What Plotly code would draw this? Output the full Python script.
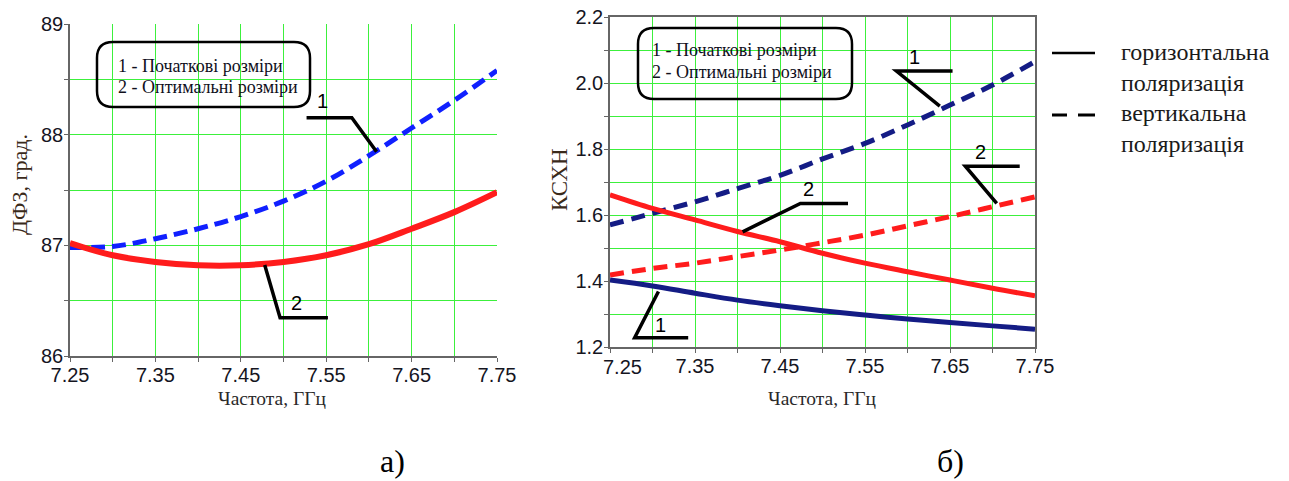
import plotly.graph_objects as go

# Frequency grid, GHz
freq = [7.25, 7.30, 7.35, 7.40, 7.45, 7.50, 7.55, 7.60, 7.65, 7.70, 7.75]

# а) differential phase shift, degrees
dfz_initial = [86.98, 86.99, 87.06, 87.15, 87.26, 87.40, 87.58, 87.81, 88.06, 88.31, 88.58]
dfz_optimal = [87.02, 86.91, 86.85, 86.82, 86.82, 86.85, 86.91, 87.01, 87.15, 87.30, 87.48]

# б) VSWR for horizontal (h) and vertical (v) polarization
vswr_h_initial = [1.403, 1.385, 1.363, 1.342, 1.325, 1.310, 1.297, 1.285, 1.274, 1.264, 1.254]
vswr_h_optimal = [1.661, 1.620, 1.585, 1.550, 1.519, 1.484, 1.454, 1.428, 1.403, 1.378, 1.355]
vswr_v_initial = [1.570, 1.605, 1.640, 1.680, 1.720, 1.770, 1.817, 1.873, 1.933, 1.994, 2.065]
vswr_v_optimal = [1.418, 1.438, 1.454, 1.474, 1.494, 1.516, 1.539, 1.567, 1.595, 1.625, 1.655]

x_ticks = [7.25, 7.35, 7.45, 7.55, 7.65, 7.75]
x_ticktext = ["7.25", "7.35", "7.45", "7.55", "7.65", "7.75"]
legend_lines = ["1 - Початкові розміри", "2 - Оптимальні розміри"]
pol_labels = ["горизонтальна<br>поляризація", "вертикальна<br>поляризація"]
x_title = "Частота, ГГц"
y_title_a = "ДФЗ, град."
y_title_b = "КСХН"
panel_labels = ["а)", "б)"]

W, H = 1289, 481
GREEN = "#3cf03c"
AXIS = "#666666"
BLUE = "#1020ff"
NAVY = "#141c85"
RED = "#ff1c1c"
SANS = "Liberation Sans, Arial, sans-serif"
SERIF = "Liberation Serif, Times New Roman, serif"


def pxx(x):
    return x / W


def pxy(y):
    return 1 - y / H


fig = go.Figure()

# panel а)
fig.add_trace(go.Scatter(x=freq, y=dfz_initial, mode="lines", xaxis="x", yaxis="y",
                         line=dict(color=BLUE, width=5, dash="14px,7px", shape="spline")))
fig.add_trace(go.Scatter(x=freq, y=dfz_optimal, mode="lines", xaxis="x", yaxis="y",
                         line=dict(color=RED, width=6, shape="spline")))

# panel б)
fig.add_trace(go.Scatter(x=freq, y=vswr_v_initial, mode="lines", xaxis="x2", yaxis="y2",
                         line=dict(color=NAVY, width=5, dash="14px,8px", shape="spline")))
fig.add_trace(go.Scatter(x=freq, y=vswr_v_optimal, mode="lines", xaxis="x2", yaxis="y2",
                         line=dict(color=RED, width=5, dash="14px,8px", shape="spline")))
fig.add_trace(go.Scatter(x=freq, y=vswr_h_optimal, mode="lines", xaxis="x2", yaxis="y2",
                         line=dict(color=RED, width=5, shape="spline")))
fig.add_trace(go.Scatter(x=freq, y=vswr_h_initial, mode="lines", xaxis="x2", yaxis="y2",
                         line=dict(color=NAVY, width=5, shape="spline")))

tickfont = dict(family=SANS, size=20, color="#15151f")


def xaxis(domain, mirror, ticktext):
    return dict(domain=domain, range=[7.25, 7.75], tickvals=x_ticks, ticktext=ticktext,
                showgrid=True, gridcolor=GREEN, gridwidth=1.3, zeroline=False,
                showline=True, linecolor=AXIS, linewidth=1.5, mirror=mirror,
                ticks="outside", ticklen=4, tickcolor=AXIS, tickfont=tickfont,
                ticklabelstandoff=-4, automargin=False,
                minor=dict(dtick=0.05, tick0=7.25, showgrid=True, gridcolor=GREEN,
                           gridwidth=1.3, ticks="outside", ticklen=4, tickcolor=AXIS),
                fixedrange=True)


def yaxis(domain, rng, dtick, minor, fmt, mirror):
    return dict(domain=domain, range=rng, dtick=dtick, tick0=rng[0], tickformat=fmt,
                showgrid=True, gridcolor=GREEN, gridwidth=1.3, zeroline=False,
                showline=True, linecolor=AXIS, linewidth=1.5, mirror=mirror,
                ticks="outside", ticklen=4, tickcolor=AXIS, tickfont=tickfont,
                ticklabelstandoff=-3, automargin=False,
                minor=dict(dtick=minor, tick0=rng[0], showgrid=True, gridcolor=GREEN,
                           gridwidth=1.3, ticks="outside", ticklen=4, tickcolor=AXIS),
                fixedrange=True)


# the first frequency label of panel б) is nudged right, clear of the "1.2" label
fig.update_layout(
    width=W, height=H,
    margin=dict(l=0, r=0, t=0, b=0, pad=0),
    paper_bgcolor="white", plot_bgcolor="white",
    showlegend=False,
    xaxis=xaxis([pxx(70), pxx(497)], False, x_ticktext),
    yaxis=yaxis([pxy(356), pxy(24)], [86, 89], 1, 0.5, "d", False),
    xaxis2=xaxis([pxx(610), pxx(1035)], True, [""] + x_ticktext[1:]),
    yaxis2=yaxis([pxy(347), pxy(17)], [1.2, 2.2], 0.2, 0.1, ".1f", True),
)
fig.update_layout(xaxis2_anchor="y2", yaxis2_anchor="x2")

shapes = []
annotations = []

annotations.append(dict(xref="paper", yref="paper", x=pxx(622), y=pxy(367),
                        xanchor="center", yanchor="middle", showarrow=False,
                        text=x_ticktext[0], font=tickfont))


def rounded_box(x0, y0, x1, y1, r):
    pts = [
        ("M", [(x0 + r, y0)]),
        ("L", [(x1 - r, y0)]),
        ("Q", [(x1, y0), (x1, y0 + r)]),
        ("L", [(x1, y1 - r)]),
        ("Q", [(x1, y1), (x1 - r, y1)]),
        ("L", [(x0 + r, y1)]),
        ("Q", [(x0, y1), (x0, y1 - r)]),
        ("L", [(x0, y0 + r)]),
        ("Q", [(x0, y0), (x0 + r, y0)]),
    ]
    path = ""
    for cmd, ps in pts:
        path += cmd + " ".join(f"{pxx(a):.5f},{pxy(b):.5f}" for a, b in ps) + " "
    return dict(type="path", xref="paper", yref="paper", path=path + "Z",
                line=dict(color="black", width=2.5), fillcolor="rgba(0,0,0,0)")


# legend boxes inside both panels
shapes.append(rounded_box(97, 42, 310, 107, 16))
shapes.append(rounded_box(638, 28, 852, 99, 16))
for (bx, by0, by1) in [(116, 66, 87), (650, 50, 72)]:
    for text, yy in zip(legend_lines, [by0, by1]):
        annotations.append(dict(xref="paper", yref="paper", x=pxx(bx), y=pxy(yy),
                                xanchor="left", yanchor="middle", showarrow=False,
                                text=text, font=dict(family=SERIF, size=18, color="#10101c")))

# curve callouts: (axis suffix, polyline in data units, label position, label)
callouts = [
    ("", [(7.527, 88.153), (7.580, 88.153), (7.609, 87.846)], (7.546, 88.30), "1"),
    ("", [(7.478, 86.822), (7.496, 86.346), (7.552, 86.346)], (7.515, 86.48), "2"),
    ("2", [(7.653, 2.036), (7.587, 2.036), (7.638, 1.930)], (7.608, 2.080), "1"),
    ("2", [(7.732, 1.748), (7.668, 1.748), (7.705, 1.635)], (7.686, 1.792), "2"),
    ("2", [(7.406, 1.549), (7.474, 1.635), (7.530, 1.635)], (7.484, 1.679), "2"),
    ("2", [(7.307, 1.368), (7.279, 1.228), (7.342, 1.228)], (7.309, 1.267), "1"),
]
for ax, pts, (lx, ly), lab in callouts:
    path = "M" + " L".join(f"{a},{b}" for a, b in pts)
    shapes.append(dict(type="path", xref="x" + ax, yref="y" + ax, path=path,
                       line=dict(color="black", width=3.5)))
    annotations.append(dict(xref="x" + ax, yref="y" + ax, x=lx, y=ly, text=lab,
                            showarrow=False, xanchor="center", yanchor="middle",
                            font=dict(family=SANS, size=20, color="black")))

# polarization key to the right of panel б)
shapes.append(dict(type="line", xref="paper", yref="paper",
                   x0=pxx(1052), x1=pxx(1095), y0=pxy(53), y1=pxy(53),
                   line=dict(color="black", width=2.5)))
for xa, xb in [(1052, 1067), (1078, 1095)]:
    shapes.append(dict(type="line", xref="paper", yref="paper",
                       x0=pxx(xa), x1=pxx(xb), y0=pxy(115), y1=pxy(115),
                       line=dict(color="black", width=3)))
for text, yy in zip(pol_labels, [67, 129]):
    annotations.append(dict(xref="paper", yref="paper", x=pxx(1119), y=pxy(yy),
                            xanchor="left", yanchor="middle", align="left", showarrow=False,
                            text=text, font=dict(family=SERIF, size=24, color="#1a1a1a")))

# axis titles
for cx in [272, 822]:
    annotations.append(dict(xref="paper", yref="paper", x=pxx(cx), y=pxy(398),
                            xanchor="center", yanchor="middle", showarrow=False,
                            text=x_title, font=dict(family=SERIF, size=19.5, color="#2a2a2a")))
annotations.append(dict(xref="paper", yref="paper", x=pxx(20), y=pxy(185), textangle=-90,
                        xanchor="center", yanchor="middle", showarrow=False,
                        text=y_title_a, font=dict(family=SERIF, size=22, color="#3a2a1a")))
annotations.append(dict(xref="paper", yref="paper", x=pxx(559), y=pxy(180), textangle=-90,
                        xanchor="center", yanchor="middle", showarrow=False,
                        text=y_title_b, font=dict(family=SERIF, size=23, color="#3a2a1a")))

# panel captions
for text, cx in zip(panel_labels, [392, 951]):
    annotations.append(dict(xref="paper", yref="paper", x=pxx(cx), y=pxy(461),
                            xanchor="center", yanchor="middle", showarrow=False,
                            text=text, font=dict(family=SERIF, size=32, color="black")))

fig.update_layout(shapes=shapes, annotations=annotations)
fig.write_html("out.html")
